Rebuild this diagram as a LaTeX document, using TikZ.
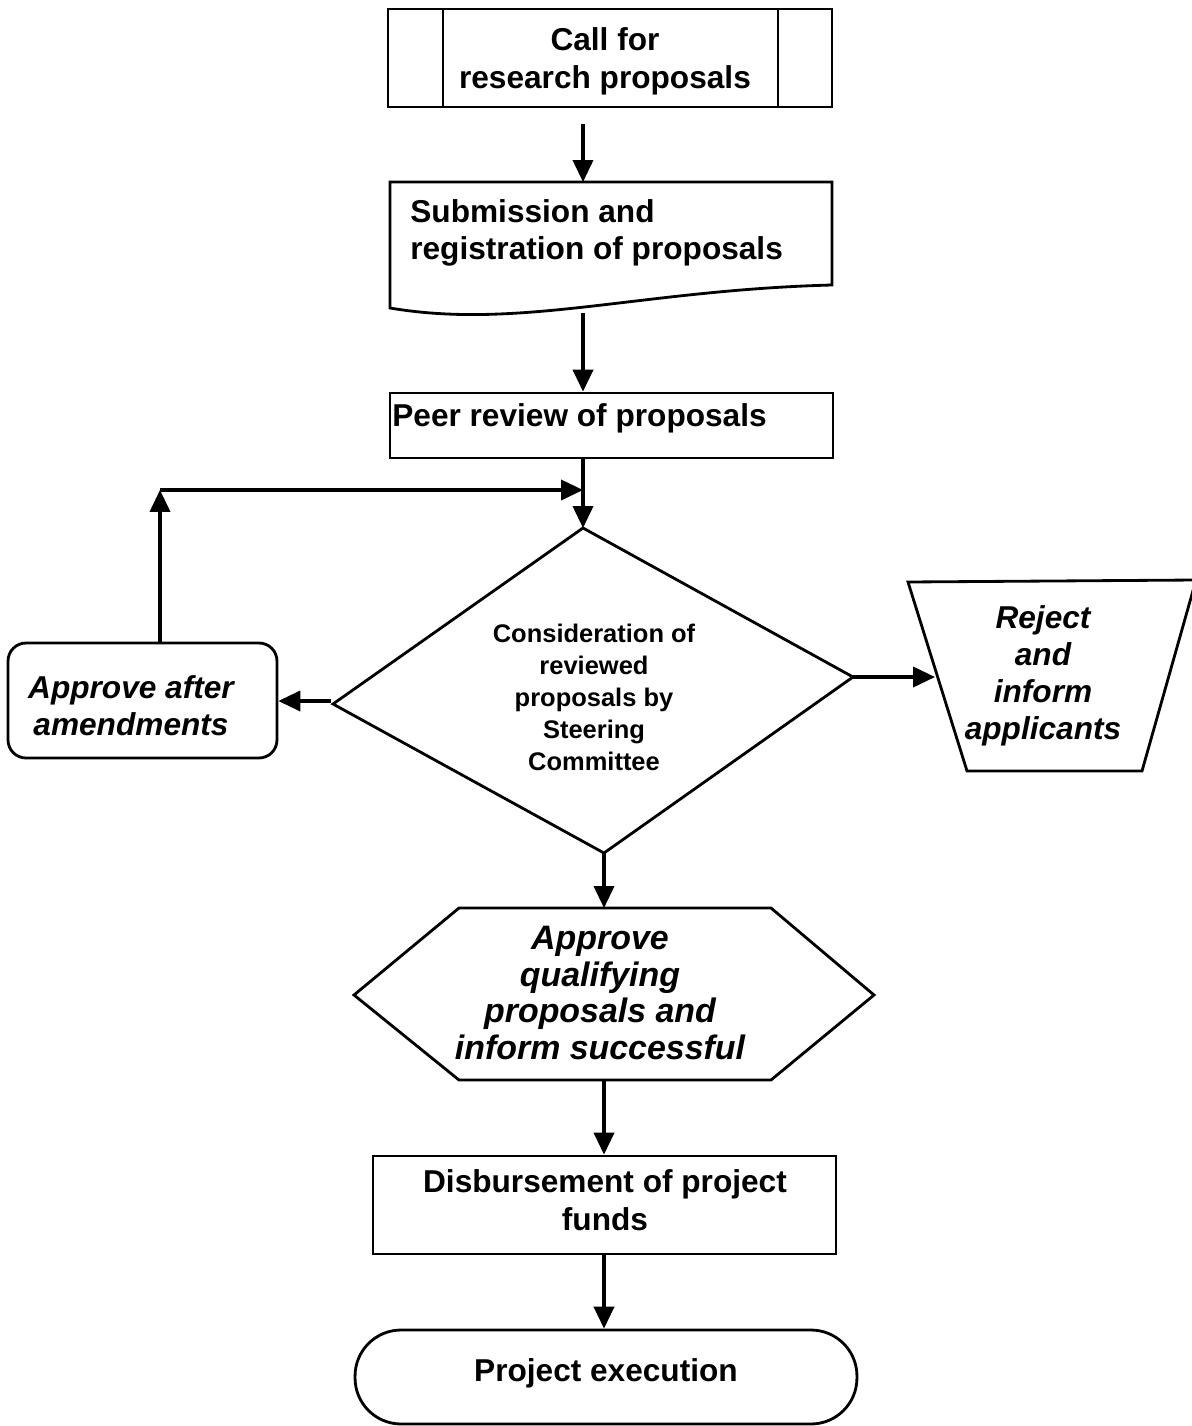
\documentclass[tikz,border=0pt]{standalone}
\usepackage{fontspec}
\setmainfont{Liberation Sans}
\usetikzlibrary{arrows.meta,calc}
\begin{document}
\begin{tikzpicture}[x=0.02cm,y=-0.02cm,
  box/.style={draw,line width=1.6pt,inner sep=0pt},
  shp/.style={draw,line width=1.6pt,line join=miter},
  arr/.style={line width=1.8pt,-{Triangle[length=12.5pt,width=11.5pt]}},
  lbl/.style={font=\fontsize{18}{21.5}\selectfont\bfseries,align=center,inner sep=0pt},
  ilbl/.style={font=\fontsize{18}{21}\selectfont\bfseries\itshape,align=center,inner sep=0pt},
  slbl/.style={font=\fontsize{14.5}{18.2}\selectfont\bfseries,align=center,inner sep=0pt}]
\useasboundingbox (0,0) rectangle (1191,1426);
\coordinate (ax) at (583,0);
\coordinate (bx) at (604,0);

% 1 Call for research proposals (predefined process)
\node[box,minimum width=8.88cm,minimum height=1.96cm] (call) at (610,58) {};
\draw[line width=1.6pt] (443,9) -- (443,107) (778,9) -- (778,107);
\node[lbl] (calltxt) at (605,61) {Call for\\research proposals};

% 2 Submission (document)
\draw[shp] (390,182) -- (832,182) -- (832,285)
  .. controls (640,290) and (520,330) .. (390,308) -- cycle;
\coordinate (subT) at (583,182);
\coordinate (subB) at (583,313);
\node[lbl,align=left,anchor=west] (sub) at (410,233) {Submission and\\registration of proposals};

% 3 Peer review
\node[box,minimum width=8.86cm,minimum height=1.3cm] (peer) at (611.5,425.5) {};
\node[lbl,anchor=west] (peertxt) at (392,418) {Peer review of proposals};

% 4 Diamond
\coordinate (dT) at (583,528);
\coordinate (dR) at (853,677);
\coordinate (dB) at (604,853);
\coordinate (dL) at (333,704);
\draw[shp] (dT) -- (dR) -- (dB) -- (dL) -- cycle;
\node[slbl] (cons) at (594,697) {Consideration of\\reviewed\\proposals by\\Steering\\Committee};

% 5 Approve after amendments
\node[box,rounded corners=0.36cm,minimum width=5.38cm,minimum height=2.3cm] (amend) at (142.5,700.5) {};
\node[ilbl] (amendtxt) at (131,706) {Approve after\\amendments};

% 6 Reject (manual operation)
\draw[shp] (908,582) -- (1196,580) -- (1142,771) -- (967,771) -- cycle;
\coordinate (rejL) at (935,677);
\node[ilbl] (rej) at (1043,676) {Reject\\and\\inform\\applicants};

% 7 Hexagon
\draw[shp] (354,995) -- (459,908) -- (771,908) -- (874,995) -- (771,1080) -- (459,1080) -- cycle;
\coordinate (hexT) at (604,908);
\coordinate (hexB) at (604,1080);
\node[ilbl,font=\fontsize{19.3}{20.8}\selectfont\bfseries\itshape] (hex) at (600,993) {Approve\\qualifying\\proposals and\\inform successful};

% 8 Disbursement
\node[box,minimum width=9.26cm,minimum height=1.96cm] (disb) at (604.5,1205) {};
\node[lbl] (disbtxt) at (605,1200) {Disbursement of project\\funds};

% 9 Terminator
\node[box,rounded corners=0.92cm,minimum width=10.04cm,minimum height=1.88cm] (term) at (606,1377) {};
\node[lbl] (termtxt) at (606,1373) {Project execution};

% connectors
\draw[arr] ([yshift=-0.32cm]call.south -| ax) -- (subT);
\draw[arr] (subB) -- (peer.north -| ax);
\draw[arr] (peer.south -| ax) -- (dT);
\coordinate (dLa) at (331,701);
\draw[arr] (dLa) -- (amend.east |- dLa);
\draw[arr] (dR) -- (rejL);
\draw[arr] (dB) -- (hexT);
\draw[arr] (hexB) -- (disb.north -| bx);
\draw[arr] (disb.south -| bx) -- (term.north -| bx);
\coordinate (corner) at (160,490);
\coordinate (join) at (583,490);
\draw[arr] (amend.north -| corner) -- (corner);
\draw[arr] (corner) -- (join);
\end{tikzpicture}
\end{document}
